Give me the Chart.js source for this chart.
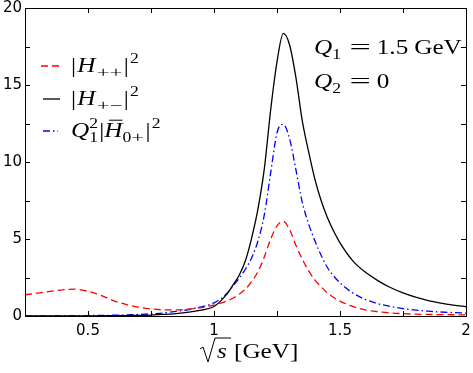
<!DOCTYPE html>
<html>
<head>
<meta charset="utf-8">
<script src="https://cdn.jsdelivr.net/npm/chart.js@4.4.1/dist/chart.umd.min.js"></script>
<style>
  html, body { margin: 0; padding: 0; background: #fff; }
  #wrap { width: 473px; height: 373px; }
</style>
</head>
<body>
<div id="wrap"><canvas id="chart" width="473" height="373"></canvas></div>
<script>
// sqrt(s) in GeV
const sqrtS = [0.25, 0.3, 0.35, 0.4, 0.45, 0.5, 0.55, 0.6, 0.65, 0.7, 0.75, 0.8, 0.85, 0.9, 0.95,
  1.0, 1.025, 1.05, 1.075, 1.1, 1.125, 1.15, 1.175, 1.2, 1.225, 1.25, 1.275, 1.3, 1.325, 1.35, 1.375,
  1.4, 1.425, 1.45, 1.475, 1.5, 1.55, 1.6, 1.65, 1.7, 1.75, 1.8, 1.85, 1.9, 1.95, 2.0];

// |H++|^2 (red dashed)
const hPlusPlus = [1.38, 1.48, 1.6, 1.7, 1.74, 1.6, 1.35, 1.0, 0.75, 0.57, 0.46, 0.4, 0.4, 0.45, 0.55,
  0.7, 0.82, 0.97, 1.15, 1.42, 1.75, 2.25, 2.9, 3.85, 5.0, 5.85, 6.15, 5.6, 4.6, 3.7, 2.95,
  2.35, 1.9, 1.5, 1.2, 0.97, 0.62, 0.4, 0.28, 0.2, 0.15, 0.12, 0.1, 0.09, 0.08, 0.07];

// |H+-|^2 (black solid)
const hPlusMinus = [0, 0, 0, 0, 0, 0.01, 0.01, 0.02, 0.03, 0.04, 0.06, 0.1, 0.16, 0.25, 0.38,
  0.62, 0.95, 1.4, 2.0, 2.65, 3.6, 5.1, 7.0, 9.6, 13.4, 16.5, 18.35, 17.6, 15.5, 12.7, 10.7,
  8.9, 7.5, 6.4, 5.5, 4.75, 3.6, 2.85, 2.3, 1.85, 1.5, 1.22, 1.0, 0.84, 0.71, 0.6];

// Q1^2 |H0+|^2 (blue dash-dot)
const hZeroPlus = [0, 0, 0.01, 0.01, 0.02, 0.03, 0.04, 0.05, 0.07, 0.1, 0.14, 0.2, 0.3, 0.42, 0.6,
  0.85, 1.1, 1.45, 1.95, 2.45, 3.05, 3.8, 4.9, 6.6, 9.3, 11.9, 12.45, 11.5, 9.5, 7.4, 6.0,
  4.9, 3.95, 3.15, 2.6, 2.15, 1.5, 1.08, 0.8, 0.62, 0.48, 0.38, 0.31, 0.26, 0.22, 0.19];

const xTickLabels = [0.5, 1, 1.5, 2];
const yTickLabels = [0, 5, 10, 15, 20];
const xMinorTicks = [0.5, 0.75, 1, 1.25, 1.5, 1.75];
const yMinorTicks = [2.5, 5, 7.5, 10, 12.5, 15, 17.5];

const RED = "#ff0000", BLUE = "#0000ff", BLACK = "#000000";
const DASH = [7, 4], DASHDOT = [7, 3, 1.5, 3];
const SERIF = '"Liberation Serif", serif';
const STRETCH = 1.2;

function toPoints(ys) {
  return sqrtS.map((x, i) => ({ x: x, y: ys[i] }));
}

// draws math-like text: runs of {t, it, sub, sup, bar, keep, gap, sx}
function drawRich(ctx, x, y, runs, size) {
  ctx.save();
  ctx.translate(x, y);
  ctx.scale(STRETCH, 1);
  ctx.fillStyle = "#000";
  ctx.textBaseline = "alphabetic";
  let cx = 0;
  for (const r of runs) {
    const s = (r.sub || r.sup) ? size * 0.7 : size;
    ctx.font = (r.it ? "italic " : "") + s + "px " + SERIF;
    const dy = r.sub ? size * 0.25 : r.sup ? -size * 0.45 : 0;
    const sx = r.sx || 1;
    cx += r.gap || 0;
    const w = ctx.measureText(r.t).width * sx;
    ctx.save();
    ctx.translate(cx, dy);
    ctx.scale(sx, 1);
    ctx.fillText(r.t, 0, 0);
    ctx.restore();
    if (r.bar) {
      ctx.strokeStyle = "#000";
      ctx.lineWidth = 1;
      ctx.beginPath();
      ctx.moveTo(cx + 4, -size * 0.8);
      ctx.lineTo(cx + w, -size * 0.8);
      ctx.stroke();
    }
    if (!r.keep) cx += w;
  }
  ctx.restore();
}

const framePlugin = {
  id: "frame",
  afterDatasetsDraw(chart) {
    const { ctx, chartArea: a, scales } = chart;
    ctx.save();
    ctx.strokeStyle = "#000";
    ctx.lineWidth = 1;
    ctx.setLineDash([]);
    ctx.strokeRect(Math.round(a.left) + 0.5, Math.round(a.top) + 0.5,
      Math.round(a.right - a.left), Math.round(a.bottom - a.top));
    ctx.beginPath();
    xMinorTicks.forEach(v => {
      const px = Math.round(scales.x.getPixelForValue(v)) + 0.5;
      ctx.moveTo(px, a.bottom); ctx.lineTo(px, a.bottom - 5);
      ctx.moveTo(px, a.top); ctx.lineTo(px, a.top + 5);
    });
    yMinorTicks.forEach(v => {
      const py = Math.round(scales.y.getPixelForValue(v)) + 0.5;
      ctx.moveTo(a.left, py); ctx.lineTo(a.left + 5, py);
      ctx.moveTo(a.right, py); ctx.lineTo(a.right - 5, py);
    });
    ctx.stroke();
    ctx.restore();
  }
};

const textPlugin = {
  id: "texts",
  afterDraw(chart) {
    const ctx = chart.ctx;
    ctx.save();

    // legend
    const rows = [
      { y: 66, x0: 41, x1: 62, color: RED, dash: DASH,
        runs: [{ t: "|" }, { t: "H", it: true, gap: 1 }, { t: "+", sub: true, sx: 1.3, gap: 1 }, { t: "+", sub: true, sx: 1.3 }, { t: "|", gap: 1 }, { t: "2", sup: true, gap: 1 }] },
      { y: 99, x0: 43, x1: 60, color: BLACK, dash: [],
        runs: [{ t: "|" }, { t: "H", it: true, gap: 1 }, { t: "+", sub: true, sx: 1.3, gap: 1 }, { t: "\u2212", sub: true, sx: 1.3 }, { t: "|", gap: 1 }, { t: "2", sup: true, gap: 1 }] },
      { y: 131, x0: 43, x1: 58, color: BLUE, dash: DASHDOT,
        runs: [{ t: "Q", it: true }, { t: "1", sub: true, keep: true }, { t: "2", sup: true }, { t: "|", gap: 1 }, { t: "H", it: true, bar: true }, { t: "0", sub: true }, { t: "+", sub: true, sx: 1.3 }, { t: "|", gap: 1 }, { t: "2", sup: true, gap: 1 }] }
    ];
    rows.forEach(r => {
      ctx.strokeStyle = r.color;
      ctx.lineWidth = 1.3;
      ctx.setLineDash(r.dash);
      ctx.beginPath();
      ctx.moveTo(r.x0, r.y);
      ctx.lineTo(r.x1, r.y);
      ctx.stroke();
      ctx.setLineDash([]);
      drawRich(ctx, 71, r.y + 6, r.runs, 21);
    });

    // parameters
    drawRich(ctx, 314, 54, [{ t: "Q", it: true }, { t: "1", sub: true }, { t: "=", gap: 7, sx: 1.5 }, { t: "1.5", gap: 5 }, { t: "GeV", gap: 5 }], 21);
    drawRich(ctx, 314, 88, [{ t: "Q", it: true }, { t: "2", sub: true }, { t: "=", gap: 7, sx: 1.5 }, { t: "0", gap: 5 }], 21);

    // x-axis title: sqrt(s) [GeV]
    const bx = 200, by = 358;
    ctx.strokeStyle = "#000";
    ctx.lineWidth = 1;
    ctx.beginPath();
    ctx.moveTo(bx, by - 9);
    ctx.lineTo(bx + 3, by - 11);
    ctx.lineTo(bx + 8, by + 4);
    ctx.lineTo(bx + 15, by - 20);
    ctx.lineTo(bx + 31, by - 20);
    ctx.stroke();
    drawRich(ctx, bx + 17, by, [{ t: "s", it: true }, { t: "[GeV]", gap: 6 }], 21);

    ctx.restore();
  }
};

const ctx = document.getElementById("chart").getContext("2d");
const chart = new Chart(ctx, {
  type: "line",
  data: {
    datasets: [
      {
        label: "|H++|^2",
        data: toPoints(hPlusPlus),
        borderColor: RED,
        borderWidth: 1.3,
        borderDash: DASH,
        pointRadius: 0,
        cubicInterpolationMode: "monotone",
        fill: false
      },
      {
        label: "|H+-|^2",
        data: toPoints(hPlusMinus),
        borderColor: BLACK,
        borderWidth: 1.3,
        pointRadius: 0,
        cubicInterpolationMode: "monotone",
        fill: false
      },
      {
        label: "Q1^2 |H0+|^2",
        data: toPoints(hZeroPlus),
        borderColor: BLUE,
        borderWidth: 1.3,
        borderDash: DASHDOT,
        pointRadius: 0,
        cubicInterpolationMode: "monotone",
        fill: false
      }
    ]
  },
  options: {
    responsive: false,
    animation: false,
    devicePixelRatio: 1,
    layout: { padding: { top: 8, right: 7, left: 0, bottom: 0 } },
    plugins: {
      legend: { display: false },
      tooltip: { enabled: false }
    },
    scales: {
      x: {
        type: "linear",
        min: 0.25,
        max: 2,
        grid: { display: false, drawTicks: false },
        border: { display: false },
        afterBuildTicks: s => { s.ticks = xTickLabels.map(v => ({ value: v })); },
        afterFit: s => { s.height = 57; s.paddingLeft = 0; s.paddingRight = 0; },
        ticks: {
          color: "#000",
          padding: 6,
          maxRotation: 0,
          font: { family: "DejaVu Sans", size: 15 },
          callback: v => String(v)
        }
      },
      y: {
        min: 0,
        max: 20,
        grid: { display: false, drawTicks: false },
        border: { display: false },
        afterBuildTicks: s => { s.ticks = yTickLabels.map(v => ({ value: v })); },
        afterFit: s => { s.width = 25; s.paddingTop = 0; s.paddingBottom = 0; },
        ticks: {
          color: "#000",
          padding: 3,
          font: { family: "DejaVu Sans", size: 15 },
          callback: v => String(v)
        }
      }
    }
  },
  plugins: [framePlugin, textPlugin]
});
</script>
</body>
</html>
